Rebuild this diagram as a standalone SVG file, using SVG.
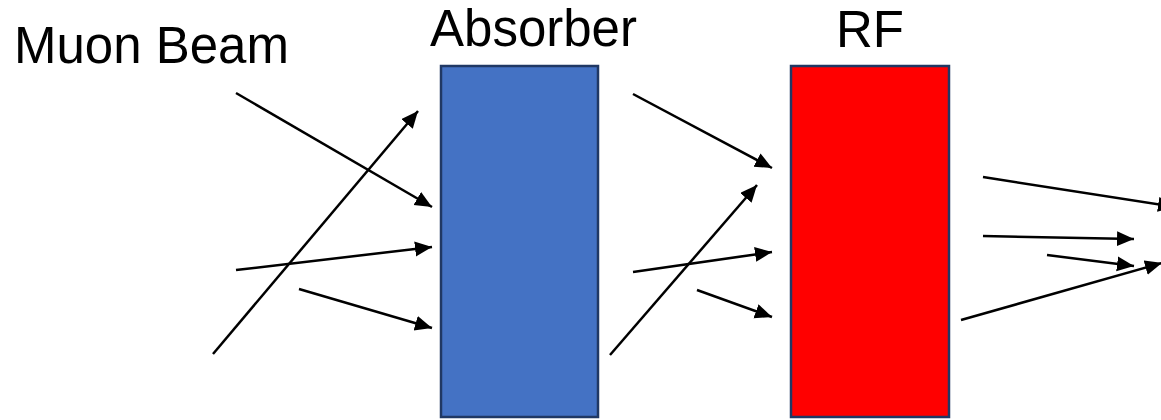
<svg xmlns="http://www.w3.org/2000/svg" width="1161" height="420" viewBox="0 0 1161 420">
<style>
  .lbl { font-family: "Liberation Sans", Arial, sans-serif; font-size: 51px; fill: #000; }
  .box { stroke: #203864; stroke-width: 2.5; }
  .arr { stroke: #000; stroke-width: 2.5; fill: none; marker-end: url(#ah); }
</style>
<defs>
  <marker id="ah" markerUnits="userSpaceOnUse" markerWidth="19" markerHeight="17" refX="17" refY="7.5" orient="auto">
    <path d="M0,0 L17,7.5 L0,15 z" fill="#000"/>
  </marker>
</defs>
<rect width="1161" height="420" fill="#fff"/>
<g id="muon-beam"><text class="lbl" x="14" y="63">Muon Beam</text></g>
<g id="absorber">
  <rect class="box" x="441" y="66" width="157" height="351" fill="#4472C4"/>
  <text class="lbl" x="430" y="46">Absorber</text>
</g>
<g id="rf">
  <rect class="box" x="791" y="66" width="158" height="351" fill="#FF0000"/>
  <text class="lbl" x="836" y="47">RF</text>
</g>
<g id="connectors">
  <line class="arr" x1="236" y1="93" x2="432" y2="207"/>
  <line class="arr" x1="213" y1="354" x2="418" y2="111"/>
  <line class="arr" x1="236" y1="270" x2="432" y2="247"/>
  <line class="arr" x1="299" y1="289" x2="432" y2="328"/>
  <line class="arr" x1="633" y1="94" x2="772" y2="168"/>
  <line class="arr" x1="610" y1="355" x2="757" y2="185"/>
  <line class="arr" x1="633" y1="272" x2="772" y2="252"/>
  <line class="arr" x1="697" y1="290" x2="772" y2="317"/>
  <line class="arr" x1="983" y1="177" x2="1175" y2="207"/>
  <line class="arr" x1="983" y1="236" x2="1134" y2="239"/>
  <line class="arr" x1="1047" y1="255" x2="1134" y2="266"/>
  <line class="arr" x1="961" y1="320" x2="1162" y2="263"/>
</g>
</svg>
